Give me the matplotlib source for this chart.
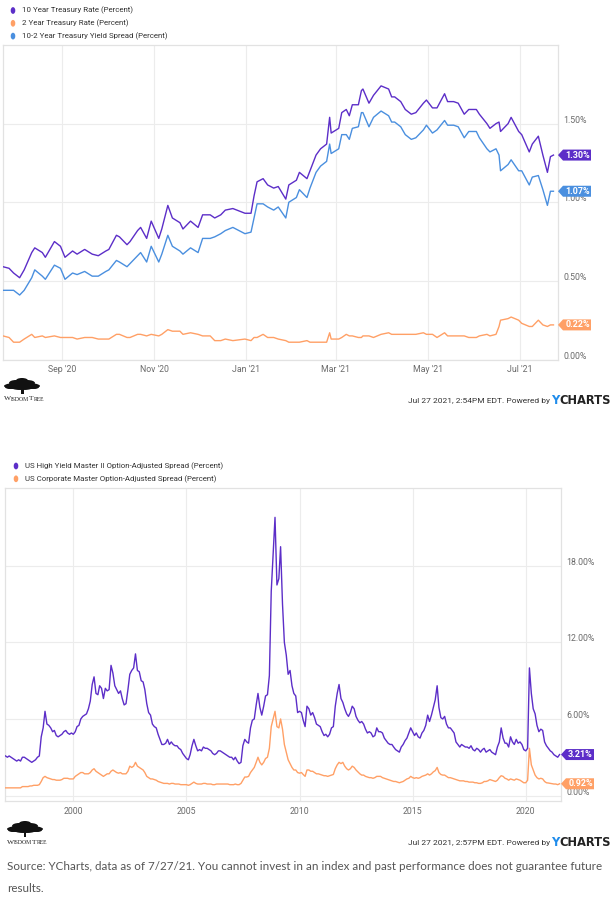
import matplotlib
matplotlib.use("Agg")
import matplotlib.pyplot as plt
import matplotlib.patches as mpatches
import pandas as pd

# ---------------- DATA ----------------
tsy_dates = [
    "2020-07-24", "2020-07-28", "2020-07-31", "2020-08-04", "2020-08-07", "2020-08-12", "2020-08-14", "2020-08-19", "2020-08-21", "2020-08-27",
    "2020-08-31", "2020-09-03", "2020-09-08", "2020-09-11", "2020-09-16", "2020-09-21", "2020-09-25", "2020-09-30", "2020-10-02", "2020-10-07",
    "2020-10-09", "2020-10-14", "2020-10-16", "2020-10-21", "2020-10-23", "2020-10-27", "2020-10-30", "2020-11-04", "2020-11-06", "2020-11-10",
    "2020-11-13", "2020-11-18", "2020-11-20", "2020-11-25", "2020-11-30", "2020-12-03", "2020-12-08", "2020-12-11", "2020-12-15", "2020-12-18",
    "2020-12-23", "2020-12-31", "2021-01-04", "2021-01-06", "2021-01-08", "2021-01-12", "2021-01-15", "2021-01-19", "2021-01-22", "2021-01-27",
    "2021-01-29", "2021-02-03", "2021-02-05", "2021-02-10", "2021-02-12", "2021-02-16", "2021-02-19", "2021-02-23", "2021-02-25", "2021-02-26",
    "2021-03-03", "2021-03-05", "2021-03-08", "2021-03-10", "2021-03-12", "2021-03-16", "2021-03-18", "2021-03-19", "2021-03-23", "2021-03-26",
    "2021-03-31", "2021-04-05", "2021-04-07", "2021-04-09", "2021-04-13", "2021-04-16", "2021-04-20", "2021-04-23", "2021-04-28", "2021-04-30",
    "2021-05-04", "2021-05-07", "2021-05-12", "2021-05-14", "2021-05-18", "2021-05-21", "2021-05-25", "2021-05-28", "2021-06-02", "2021-06-04",
    "2021-06-09", "2021-06-11", "2021-06-15", "2021-06-17", "2021-06-18", "2021-06-23", "2021-06-25", "2021-06-30", "2021-07-02", "2021-07-07",
    "2021-07-09", "2021-07-13", "2021-07-16", "2021-07-19", "2021-07-21", "2021-07-23",
]
ten_year = [
    0.59, 0.58, 0.55, 0.52, 0.57, 0.68, 0.71, 0.68, 0.65, 0.75,
    0.72, 0.65, 0.69, 0.67, 0.70, 0.67, 0.66, 0.69, 0.70, 0.79,
    0.78, 0.73, 0.75, 0.82, 0.84, 0.77, 0.88, 0.77, 0.83, 0.98,
    0.90, 0.87, 0.83, 0.88, 0.84, 0.92, 0.92, 0.90, 0.92, 0.95,
    0.96, 0.93, 0.93, 1.04, 1.13, 1.15, 1.11, 1.09, 1.10, 1.02,
    1.11, 1.14, 1.19, 1.15, 1.20, 1.30, 1.34, 1.37, 1.54, 1.44,
    1.47, 1.57, 1.59, 1.55, 1.62, 1.62, 1.71, 1.72, 1.63, 1.68,
    1.74, 1.72, 1.67, 1.67, 1.64, 1.59, 1.56, 1.57, 1.63, 1.65,
    1.60, 1.60, 1.69, 1.64, 1.64, 1.63, 1.56, 1.59, 1.59, 1.56,
    1.50, 1.47, 1.50, 1.51, 1.45, 1.50, 1.54, 1.45, 1.43, 1.32,
    1.37, 1.42, 1.30, 1.19, 1.29, 1.30,
]
two_year = [
    0.15, 0.14, 0.11, 0.11, 0.13, 0.16, 0.14, 0.15, 0.14, 0.15,
    0.14, 0.14, 0.14, 0.13, 0.14, 0.14, 0.13, 0.13, 0.13, 0.16,
    0.16, 0.14, 0.14, 0.16, 0.16, 0.15, 0.16, 0.15, 0.16, 0.19,
    0.18, 0.18, 0.16, 0.17, 0.16, 0.15, 0.15, 0.12, 0.12, 0.13,
    0.12, 0.13, 0.12, 0.14, 0.14, 0.16, 0.14, 0.14, 0.13, 0.12,
    0.11, 0.11, 0.11, 0.12, 0.11, 0.11, 0.11, 0.11, 0.17, 0.13,
    0.13, 0.14, 0.16, 0.15, 0.15, 0.14, 0.14, 0.15, 0.15, 0.14,
    0.16, 0.17, 0.16, 0.16, 0.16, 0.16, 0.16, 0.16, 0.17, 0.16,
    0.16, 0.14, 0.17, 0.15, 0.15, 0.15, 0.15, 0.14, 0.14, 0.15,
    0.16, 0.15, 0.16, 0.21, 0.25, 0.26, 0.27, 0.25, 0.23, 0.21,
    0.21, 0.25, 0.22, 0.21, 0.22, 0.22,
]
spread_10_2 = [
    0.44, 0.44, 0.44, 0.41, 0.44, 0.52, 0.57, 0.53, 0.51, 0.60,
    0.58, 0.51, 0.55, 0.54, 0.56, 0.53, 0.53, 0.56, 0.57, 0.63,
    0.62, 0.59, 0.61, 0.66, 0.68, 0.62, 0.72, 0.62, 0.67, 0.79,
    0.72, 0.69, 0.67, 0.71, 0.68, 0.77, 0.77, 0.78, 0.80, 0.82,
    0.84, 0.80, 0.81, 0.90, 0.99, 0.99, 0.97, 0.95, 0.97, 0.90,
    1.00, 1.03, 1.08, 1.03, 1.09, 1.19, 1.23, 1.26, 1.37, 1.31,
    1.34, 1.43, 1.43, 1.40, 1.47, 1.48, 1.57, 1.57, 1.48, 1.54,
    1.58, 1.55, 1.51, 1.51, 1.48, 1.43, 1.40, 1.41, 1.46, 1.49,
    1.44, 1.46, 1.52, 1.49, 1.49, 1.48, 1.41, 1.45, 1.45, 1.41,
    1.34, 1.32, 1.34, 1.30, 1.20, 1.24, 1.27, 1.20, 1.20, 1.11,
    1.16, 1.17, 1.08, 0.98, 1.07, 1.07,
]
tsy_names = ["10 Year Treasury Rate (Percent)", "2 Year Treasury Rate (Percent)",
             "10-2 Year Treasury Yield Spread (Percent)"]
tsy_last = ["1.30%", "0.22%", "1.07%"]
tsy_yticks = [0.0, 0.5, 1.0, 1.5]
tsy_yticklabels = ["0.00%", "0.50%", "1.00%", "1.50%"]
tsy_xticks = ["2020-09-01", "2020-11-01", "2021-01-01", "2021-03-01", "2021-05-01", "2021-07-01"]
tsy_xticklabels = ["Sep '20", "Nov '20", "Jan '21", "Mar '21", "May '21", "Jul '21"]

oas_start = "1997-01-01"
high_yield = [
    3.1, 3.0, 3.1, 3.0, 2.9, 2.8, 2.7, 2.8, 2.7, 3.0, 3.0, 2.9,
    2.8, 2.7, 2.6, 2.7, 2.8, 3.0, 3.1, 4.6, 5.3, 6.6, 5.6, 5.5,
    5.3, 5.0, 5.1, 4.7, 4.6, 4.7, 4.8, 5.0, 5.1, 4.9, 4.8, 4.9,
    4.8, 5.0, 5.4, 5.5, 6.0, 6.2, 6.3, 6.4, 6.8, 7.4, 8.7, 9.3,
    8.0, 7.9, 8.6, 8.4, 7.6, 8.4, 8.2, 8.3, 10.2, 9.6, 8.6, 8.3,
    8.0, 8.2, 7.6, 7.1, 7.2, 8.3, 9.5, 9.8, 10.0, 11.1, 9.8, 9.7,
    9.0, 8.9, 8.3, 7.2, 6.5, 6.3, 5.6, 5.4, 5.3, 4.8, 4.4, 4.0,
    4.0, 4.1, 4.4, 4.0, 4.2, 4.0, 3.9, 3.9, 3.7, 3.6, 3.3, 3.1,
    2.9, 2.8, 3.2, 3.9, 4.4, 3.9, 3.5, 3.6, 3.5, 3.8, 3.7, 3.7,
    3.6, 3.5, 3.3, 3.2, 3.3, 3.5, 3.5, 3.4, 3.3, 3.2, 3.1, 3.0,
    3.0, 2.8, 3.0, 2.7, 2.5, 2.6, 3.9, 4.4, 4.2, 4.1, 5.3, 5.9,
    6.0, 7.1, 8.0, 6.9, 6.3, 7.0, 7.8, 7.9, 9.4, 16.0, 19.0, 21.8,
    16.5, 17.0, 19.5, 15.0, 12.0, 11.0, 9.5, 9.8, 8.6, 8.0, 7.8, 6.5,
    6.6, 6.5, 5.9, 5.4, 7.0, 6.8, 6.3, 6.5, 6.1, 5.6, 5.5, 5.4,
    5.0, 4.7, 4.8, 4.6, 4.8, 5.3, 5.4, 7.0, 8.0, 8.7, 7.6, 7.3,
    6.8, 6.4, 6.2, 6.5, 7.0, 6.8, 6.2, 5.9, 5.7, 5.8, 5.6, 5.2,
    4.9, 5.0, 4.9, 4.6, 4.7, 5.3, 5.0, 5.0, 4.9, 4.5, 4.3, 4.1,
    4.0, 4.0, 3.8, 3.6, 3.5, 3.4, 3.8, 4.0, 4.3, 4.5, 4.9, 5.3,
    5.0, 4.7, 4.9, 4.6, 4.5, 4.9, 5.1, 5.5, 6.3, 5.8, 6.3, 6.9,
    7.5, 8.6, 6.9, 6.1, 6.0, 6.2, 5.6, 5.3, 5.3, 5.1, 4.9, 4.2,
    4.0, 3.8, 4.0, 3.9, 3.8, 3.8, 3.7, 3.9, 3.6, 3.5, 3.7, 3.6,
    3.4, 3.6, 3.7, 3.4, 3.5, 3.6, 3.4, 3.3, 3.2, 3.8, 4.2, 5.3,
    4.5, 4.1, 4.1, 3.8, 4.6, 4.2, 4.0, 4.4, 4.1, 4.2, 4.0, 3.6,
    3.5, 3.7, 10.0, 8.0, 6.8, 6.4, 5.5, 5.0, 5.2, 5.1, 4.2, 3.9,
    3.7, 3.5, 3.4, 3.2, 3.1, 3.0, 3.21,
]
corporate = [
    0.6, 0.6, 0.6, 0.6, 0.6, 0.6, 0.6, 0.6, 0.6, 0.7, 0.7, 0.7,
    0.7, 0.75, 0.75, 0.8, 0.8, 0.8, 0.85, 1.1, 1.4, 1.5, 1.4, 1.35,
    1.3, 1.25, 1.25, 1.2, 1.2, 1.2, 1.25, 1.35, 1.35, 1.35, 1.3, 1.3,
    1.3, 1.5, 1.6, 1.7, 1.8, 1.8, 1.7, 1.7, 1.7, 1.8, 2.0, 2.1,
    1.9, 1.8, 1.7, 1.6, 1.5, 1.6, 1.7, 1.7, 1.9, 2.0, 1.9, 1.8,
    1.75, 1.8, 1.7, 1.7, 1.7, 1.9, 2.3, 2.2, 2.3, 2.6, 2.3, 2.2,
    2.1, 2.0, 1.8, 1.5, 1.4, 1.3, 1.3, 1.25, 1.2, 1.1, 1.05, 1.0,
    0.95, 0.95, 0.95, 0.9, 0.95, 0.95, 0.9, 0.9, 0.9, 0.85, 0.85, 0.85,
    0.85, 0.8, 0.85, 0.95, 1.05, 0.95, 0.9, 0.9, 0.9, 0.95, 0.95, 0.9,
    0.9, 0.9, 0.85, 0.85, 0.9, 0.9, 0.9, 0.9, 0.9, 0.9, 0.9, 0.85,
    0.85, 0.85, 0.9, 0.85, 0.85, 0.95, 1.2, 1.45, 1.45, 1.5, 1.8, 2.0,
    2.2, 2.6, 3.0, 2.6, 2.4, 2.6, 2.9, 3.0, 3.7, 5.4, 6.0, 6.6,
    5.4, 5.3, 6.0, 5.2, 4.0, 3.4, 2.8, 2.5, 2.2, 2.0, 2.0, 1.8,
    1.75, 1.8, 1.65, 1.5, 2.0, 2.0, 1.9, 1.9, 1.8, 1.7, 1.7, 1.65,
    1.6, 1.55, 1.55, 1.5, 1.55, 1.6, 1.65, 2.1, 2.4, 2.6, 2.5, 2.6,
    2.3, 2.1, 2.0, 2.1, 2.3, 2.2, 2.0, 1.85, 1.7, 1.6, 1.6, 1.5,
    1.45, 1.4, 1.4, 1.35, 1.4, 1.5, 1.5, 1.5, 1.4, 1.35, 1.3, 1.25,
    1.2, 1.15, 1.1, 1.1, 1.05, 1.0, 1.05, 1.1, 1.2, 1.3, 1.35, 1.5,
    1.4, 1.35, 1.4, 1.35, 1.4, 1.5, 1.55, 1.6, 1.7, 1.6, 1.7, 1.85,
    1.95, 2.2, 1.8, 1.65, 1.6, 1.6, 1.5, 1.4, 1.4, 1.35, 1.3, 1.25,
    1.2, 1.15, 1.15, 1.15, 1.1, 1.1, 1.05, 1.05, 1.05, 1.0, 1.0, 0.95,
    0.95, 1.0, 1.1, 1.1, 1.15, 1.25, 1.2, 1.15, 1.1, 1.2, 1.4, 1.55,
    1.5, 1.35, 1.3, 1.2, 1.3, 1.25, 1.2, 1.3, 1.25, 1.2, 1.1, 1.0,
    1.0, 1.2, 3.7, 2.4, 2.0, 1.6, 1.4, 1.3, 1.35, 1.3, 1.1, 1.0,
    0.98, 0.95, 0.92, 0.9, 0.9, 0.85, 0.92,
]
oas_names = ["US High Yield Master II Option-Adjusted Spread (Percent)",
             "US Corporate Master Option-Adjusted Spread (Percent)"]
oas_last = ["3.21%", "0.92%"]
oas_yticks = [0.0, 6.0, 12.0, 18.0]
oas_yticklabels = ["0.00%", "6.00%", "12.00%", "18.00%"]
oas_xticks = ["2000-01-01", "2005-01-01", "2010-01-01", "2015-01-01", "2020-01-01"]
oas_xticklabels = ["2000", "2005", "2010", "2015", "2020"]

source_line1 = ("Source: YCharts, data as of 7/27/21. You cannot invest in an index and past "
                "performance does not guarantee future")
source_line2 = "results."

# ---------------- STYLE ----------------
PURPLE = "#5c2ec8"
ORANGE = "#ffa066"
BLUE = "#4a8fdf"
GRID = "#ececec"
BORDER = "#e2e2e2"
TICKC = "#6b6b6b"
FONT = "Roboto"

W, H = 613, 900
fig = plt.figure(figsize=(W / 100, H / 100), dpi=100)
fig.patch.set_facecolor("white")
renderer = fig.canvas.get_renderer()


def px_axes(x0, y0, x1, y1):
    return fig.add_axes([x0 / W, 1 - y1 / H, (x1 - x0) / W, (y1 - y0) / H])


def style_axes(ax, yticks, yticklabels, xticks, xticklabels):
    ax.set_facecolor("white")
    for s in ax.spines.values():
        s.set_color(BORDER)
        s.set_linewidth(0.9)
    ax.set_yticks(yticks)
    ax.set_yticklabels([])
    ax.tick_params(axis="y", length=0)
    ax.set_xticks([pd.Timestamp(t) for t in xticks])
    ax.set_xticklabels(xticklabels, fontsize=6.3, color=TICKC, family=FONT)
    ax.tick_params(axis="x", length=0, pad=4)
    ax.grid(True, color=GRID, linewidth=0.8, zorder=0)
    ax.set_axisbelow(True)
    tr = ax.get_yaxis_transform()
    for v, lab in zip(yticks, yticklabels):
        ax.annotate(lab, xy=(1.0, v), xycoords=tr, xytext=(3.8, 2.5),
                    textcoords="offset points", ha="left", va="center",
                    fontsize=6.3, color=TICKC, family=FONT, annotation_clip=False)


def end_label(ax, val, text, color):
    tr = ax.get_yaxis_transform()
    x0, y0 = tr.transform((1.0, val))
    hh = 5.5
    pts = [(x0, y0), (x0 + 5, y0 + hh), (x0 + 33, y0 + hh), (x0 + 33, y0 - hh), (x0 + 5, y0 - hh)]
    pts = [(px / W, py / H) for px, py in pts]
    poly = mpatches.Polygon(pts, closed=True, transform=fig.transFigure,
                            facecolor=color, edgecolor="none", zorder=10)
    fig.add_artist(poly)
    fig.text((x0 + 19.5) / W, y0 / H, text, ha="center", va="center", color="white",
             fontsize=6.5, fontweight="bold", family=FONT, zorder=11)


def legend(entries, x_dot, y_first, dy, size):
    for i, (name, col) in enumerate(entries):
        y = y_first + i * dy
        fig.add_artist(mpatches.Circle((x_dot / W, 1 - y / H), 2.3 / W,
                                       transform=fig.transFigure, facecolor=col,
                                       edgecolor="none"))
        fig.text((x_dot + 9) / W, 1 - y / H, name, ha="left", va="center",
                 fontsize=size, color="#333333", family=FONT)


def logo(x, y):
    for cx, cy, w, h in [(19, 0, 36, 7), (13, -3, 14, 6), (24, -3, 16, 6), (19, -5.5, 12, 5),
                         (7, 1, 10, 4), (31, 1, 10, 4), (19, 2, 20, 4)]:
        e = mpatches.Ellipse(((x + cx) / W, 1 - (y + cy) / H), w / W, h / H,
                             transform=fig.transFigure, facecolor="#111111", edgecolor="none")
        fig.add_artist(e)
    fig.add_artist(mpatches.Rectangle(((x + 17.5) / W, 1 - (y + 8) / H), 3 / W, 6 / H,
                                      transform=fig.transFigure, facecolor="#111111",
                                      edgecolor="none"))
    y_t = y + 13
    t1 = fig.text((x + 1) / W, 1 - y_t / H, "W", fontsize=5.4, family="Liberation Serif",
                  color="#222222", ha="left", va="center")
    xx = t1.get_window_extent(renderer).x1
    t2 = fig.text(xx / W, 1 - (y_t + 0.3) / H, "ISDOM", fontsize=4.1, family="Liberation Serif",
                  color="#222222", ha="left", va="center")
    xx = t2.get_window_extent(renderer).x1
    t3 = fig.text(xx / W, 1 - y_t / H, "T", fontsize=5.4, family="Liberation Serif",
                  color="#222222", ha="left", va="center")
    xx = t3.get_window_extent(renderer).x1
    fig.text(xx / W, 1 - (y_t + 0.3) / H, "REE", fontsize=4.1, family="Liberation Serif",
             color="#222222", ha="left", va="center")


def powered(y, stamp):
    t_charts = fig.text(611 / W, 1 - y / H, "CHARTS", ha="right", va="center",
                        fontsize=8.3, fontweight="bold", color="#222222", family="DejaVu Sans")
    bb = t_charts.get_window_extent(renderer)
    t_y = fig.text((bb.x0 - 0.5) / W, 1 - y / H, "Y", ha="right", va="center",
                   fontsize=8.3, fontweight="bold", color="#1f8ceb", family="DejaVu Sans")
    bb2 = t_y.get_window_extent(renderer)
    fig.text((bb2.x0 - 1) / W, 1 - (y + 0.5) / H, stamp + " Powered by", ha="right", va="center",
             fontsize=6.0, color="#333333", family=FONT)


# ---------------- TOP CHART ----------------
ax1 = px_axes(3, 45, 558, 359.5)
d1 = pd.to_datetime(tsy_dates)
ax1.plot(d1, two_year, color=ORANGE, lw=1.0, zorder=3)
ax1.plot(d1, spread_10_2, color=BLUE, lw=1.0, zorder=3)
ax1.plot(d1, ten_year, color=PURPLE, lw=1.0, zorder=4)
ax1.set_xlim(pd.Timestamp("2020-07-24"), pd.Timestamp("2021-07-26"))
ax1.set_ylim(0, 2.0)
style_axes(ax1, tsy_yticks, tsy_yticklabels, tsy_xticks, tsy_xticklabels)
end_label(ax1, ten_year[-1], tsy_last[0], PURPLE)
end_label(ax1, spread_10_2[-1], tsy_last[2], BLUE)
end_label(ax1, two_year[-1], tsy_last[1], ORANGE)
legend(list(zip(tsy_names, [PURPLE, ORANGE, BLUE])), 13, 10.5, 12.8, 5.7)

# ---------------- BOTTOM CHART ----------------
ax2 = px_axes(5.5, 488, 561, 801)
d2 = pd.date_range(oas_start, periods=len(high_yield), freq="MS")
ax2.plot(d2, corporate, color=ORANGE, lw=1.0, zorder=3)
ax2.plot(d2, high_yield, color=PURPLE, lw=1.0, zorder=4)
ax2.set_xlim(pd.Timestamp("1997-01-01"), pd.Timestamp("2021-07-24"))
ax2.set_ylim(-0.43, 24.1)
style_axes(ax2, oas_yticks, oas_yticklabels, oas_xticks, oas_xticklabels)
end_label(ax2, high_yield[-1], oas_last[0], PURPLE)
end_label(ax2, corporate[-1], oas_last[1], ORANGE)
legend(list(zip(oas_names, [PURPLE, ORANGE])), 16, 466, 12.8, 5.7)

# ---------------- FOOTERS ----------------
logo(3, 386)
logo(6, 829)
powered(400, "Jul 27 2021, 2:54PM EDT.")
powered(843, "Jul 27 2021, 2:57PM EDT.")

src1 = fig.text(7 / W, 1 - 867 / H, source_line1, ha="left", va="center",
                fontsize=10, color="#555555", family="Lato")
wpx = src1.get_window_extent(renderer).width
size = 10 * 590.0 / wpx
src1.set_fontsize(size)
fig.text(7 / W, 1 - 888 / H, source_line2, ha="left", va="center", fontsize=size,
         color="#555555", family="Lato")

fig.savefig("out.png", dpi=100, facecolor="white")
